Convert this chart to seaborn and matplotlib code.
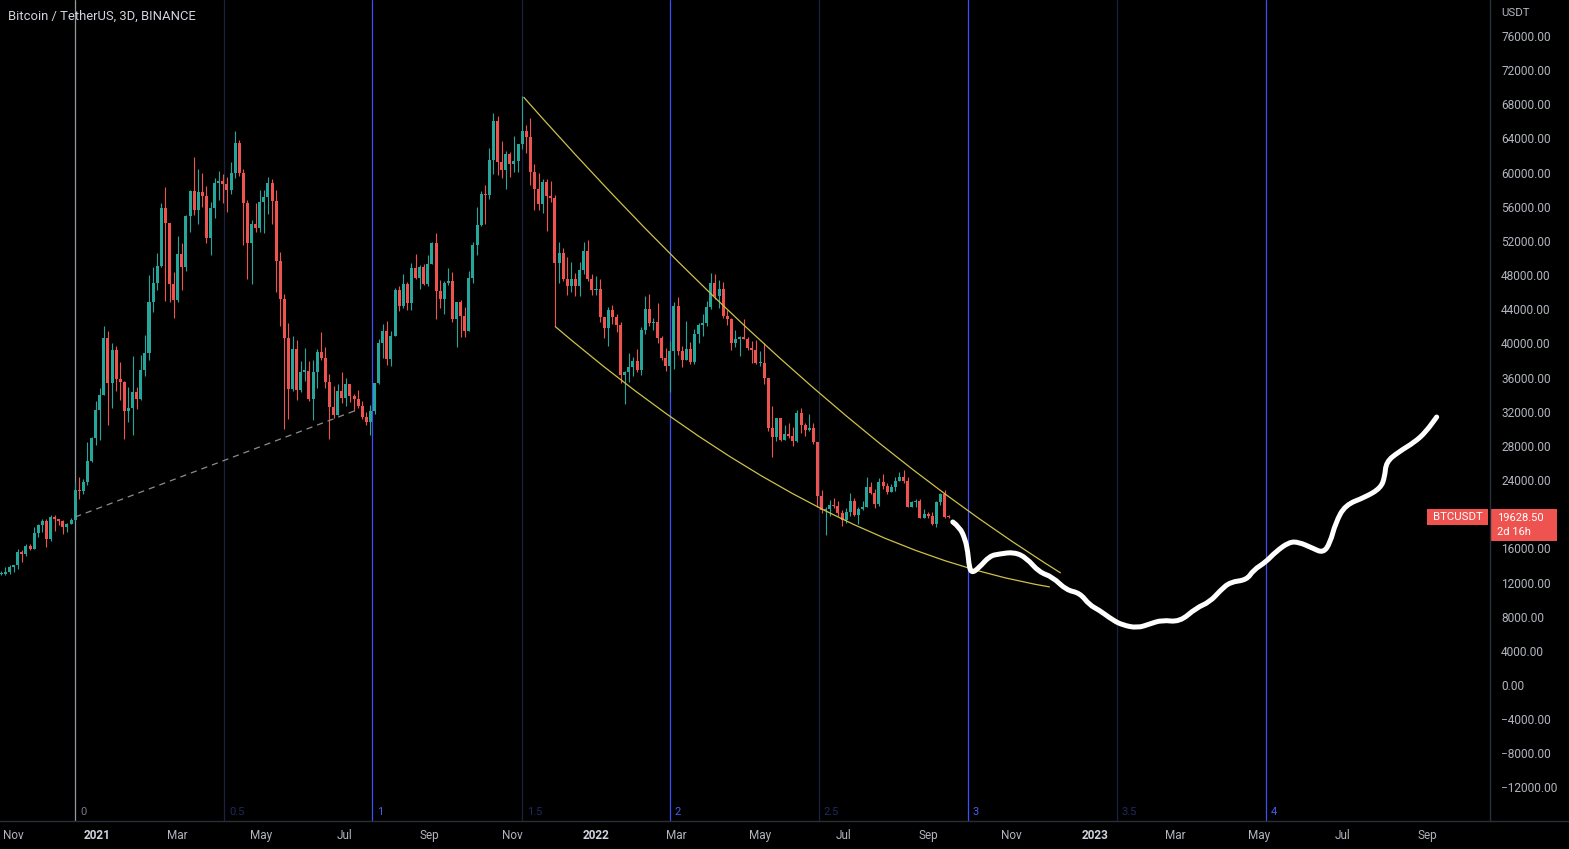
import numpy as np
import pandas as pd
import matplotlib
matplotlib.use("Agg")
import matplotlib.pyplot as plt
import matplotlib.dates as mdates
from matplotlib.patches import Rectangle, PathPatch
from matplotlib.path import Path
from matplotlib.lines import Line2D
import seaborn as sns

# ---------------- data ----------------
bar_start = "2020-10-23"          # first 3D bar
first_open = 12990
closes = [13030, 13280, 13800, 14000, 15600, 15300, 16300, 15960, 17800, 18680,
          19160, 17150, 19700, 19420, 19150, 18550, 18810, 19270, 22800, 22720,
          23730, 26280, 28890, 32180, 33950, 40600, 35400, 39200, 35800, 35470,
          32070, 32470, 34260, 33500, 36900, 38900, 44800, 47100, 49100, 55900,
          54100, 47000, 45100, 50500, 48900, 54900, 57800, 55600, 57700, 57300,
          52300, 55800, 58800, 59000, 58700, 58000, 60000, 63500, 60000, 56500,
          51700, 54000, 53500, 56600, 57200, 58800, 56700, 49700, 45200, 40600,
          34700, 39300, 34600, 36700, 36800, 33500, 36700, 39000, 38300, 35500,
          32500, 31600, 34400, 33600, 35300, 33800, 33500, 32700, 31400, 30800,
          32100, 35400, 40000, 41500, 38200, 40900, 46300, 44400, 47000, 44700,
          48800, 47700, 49000, 46900, 49300, 51800, 46100, 45200, 47100, 47300,
          42800, 44900, 43200, 41500, 47700, 51500, 53900, 57500, 57400, 61500,
          66000, 61300, 60300, 62200, 61000, 61400, 63300, 64900, 64200, 60100,
          58100, 56300, 58900, 57300, 57000, 49400, 50600, 47500, 46700, 47600,
          46700, 48600, 50800, 47500, 46200, 46400, 43100, 41800, 43900, 43100,
          42200, 36300, 36700, 37200, 37900, 36900, 41600, 44000, 42400, 42500,
          40600, 38300, 37300, 39100, 44400, 39100, 38000, 39400, 37800, 41100,
          42200, 42400, 44300, 47100, 45500, 46400, 43200, 42800, 40100, 40500,
          40800, 40500, 39500, 39200, 37700, 37700, 36000, 30100, 29000, 31300,
          28700, 29400, 29100, 28600, 31800, 30500, 29900, 30100, 28400, 22100,
          20500, 20600, 21100, 21000, 20100, 19300, 20200, 21600, 19900, 20600,
          20800, 23200, 22500, 21200, 23800, 23300, 22600, 23200, 23900, 24400,
          23900, 20800, 21400, 21600, 19600, 20000, 19800, 18800, 21400, 22400,
          19700, 19628.5]
highs = [13350, 13860, 14100, 14070, 15960, 15850, 16480, 16480, 18480, 18800,
         19420, 19480, 19860, 19920, 19420, 19350, 18950, 19570, 23800, 24300,
         24100, 28420, 29000, 33300, 34800, 42000, 41400, 40100, 39700, 37850,
         35600, 34900, 38500, 34900, 38700, 40950, 48000, 48900, 50600, 56400,
         58350, 52000, 48400, 52600, 51800, 55000, 58000, 61800, 60400, 59900,
         58400, 56600, 59400, 60200, 59800, 59500, 61200, 64850, 63800, 60400,
         56800, 54400, 56400, 57950, 58000, 59500, 59300, 58000, 50700, 45800,
         42400, 40900, 40400, 37900, 39500, 37900, 38000, 39400, 41300, 39600,
         36400, 35000, 35300, 36600, 35900, 35300, 34100, 34600, 33200, 32000,
         32800, 35400, 40550, 42300, 42600, 41400, 46450, 46700, 48100, 47200,
         49400, 50500, 49200, 49300, 50400, 51900, 52900, 47400, 47300, 48800,
         48400, 44900, 45100, 44300, 48500, 51900, 56000, 57800, 58500, 62900,
         67000, 66650, 63700, 62500, 62400, 64300, 63300, 69000, 65600, 66400,
         61000, 60000, 59300, 59200, 59000, 57400, 51900, 51200, 50100, 49500,
         48300, 49500, 51900, 52100, 48100, 47900, 47500, 43100, 44300, 44500,
         43500, 42500, 36800, 38900, 38400, 39300, 41900, 45500, 45800, 43000,
         44700, 40900, 39500, 40300, 44900, 45400, 39700, 42600, 40200, 41700,
         42400, 43400, 45000, 48200, 48100, 47400, 47200, 43900, 43000, 41600,
         40900, 42900, 40800, 40300, 40400, 39100, 40000, 36000, 32700, 31300,
         31000, 30500, 30700, 30200, 32200, 32400, 30700, 31700, 30700, 28500,
         22800, 20800, 21700, 21900, 21500, 20500, 20700, 22500, 21900, 20900,
         21600, 24300, 23800, 23000, 24200, 24700, 23600, 23500, 24300, 24900,
         25200, 24400, 21500, 21800, 21800, 20600, 20200, 20200, 21500, 22500,
         22800, 19880]
lows = [12880, 12900, 13000, 13200, 13530, 14350, 15100, 15800, 15900, 17330,
        17900, 16180, 16880, 18000, 18720, 17650, 17900, 18980, 19250, 21810,
        22350, 23400, 26100, 28100, 28700, 33950, 30400, 32400, 34400, 33400,
        28800, 30800, 29240, 32300, 33400, 36200, 38000, 43700, 46200, 49000,
        45000, 44900, 43000, 44900, 46300, 48500, 53000, 55000, 54000, 56000,
        51700, 50400, 54700, 56800, 56500, 55400, 57500, 59400, 59600, 51500,
        47500, 47000, 53000, 53100, 52900, 55200, 54000, 46000, 42000, 30000,
        31100, 34400, 33400, 34300, 35600, 33300, 31000, 34800, 38100, 34800,
        28800, 31300, 31900, 33000, 32700, 33100, 32100, 32400, 31100, 30400,
        29300, 31700, 35200, 38300, 37500, 37300, 40900, 43800, 44200, 43900,
        43900, 47600, 46400, 46800, 46700, 49400, 42800, 44200, 43400, 46800,
        42500, 39600, 40700, 40800, 41400, 47100, 50400, 53700, 54000, 56900,
        59800, 59700, 59400, 58100, 59500, 60100, 60100, 62800, 62300, 58600,
        55600, 55600, 55300, 53200, 56600, 42000, 47100, 47300, 45700, 46000,
        45500, 45600, 48100, 47300, 45700, 45700, 42500, 40600, 39700, 42300,
        41300, 35400, 32900, 35500, 36200, 36600, 36300, 41100, 42000, 41600,
        40100, 38000, 36800, 34300, 37000, 38600, 37200, 38200, 37600, 37600,
        40100, 40900, 42000, 44000, 45200, 44200, 43000, 42100, 39200, 39600,
        38500, 40500, 39200, 37700, 37600, 37400, 35300, 29700, 26700, 28600,
        28600, 28700, 28900, 28000, 28500, 29500, 29200, 29800, 28200, 20800,
        20100, 17600, 19800, 20700, 19800, 18600, 19000, 19800, 19800, 18900,
        20500, 20800, 22400, 20700, 21000, 22900, 22400, 22600, 22700, 23900,
        23700, 20800, 20800, 20900, 19500, 19500, 19600, 18700, 18500, 21100,
        19600, 19520]

cycle_dates = ["2020-12-16", "2021-04-04", "2021-07-21", "2021-11-08", "2022-02-24",
               "2022-06-13", "2022-09-30", "2023-01-17", "2023-05-06"]
cycle_levels = ["0", "0.5", "1", "1.5", "2", "2.5", "3", "3.5", "4"]

# curved trend lines: start, control, end (date, price)
upper_dates = ["2021-11-09", "2022-05-30", "2022-12-07"]
upper_prices = [68850, 32200, 13110]
lower_dates = ["2021-12-02", "2022-06-09", "2022-11-29"]
lower_prices = [42000, 16160, 11480]

dash_dates = ["2020-12-16", "2021-07-10"]
dash_prices = [19670, 32200]

# hand-drawn projection (brush anchors)
proj_dates = ["2022-09-19", "2022-09-24", "2022-09-28", "2022-09-30", "2022-10-01",
              "2022-10-03", "2022-10-08", "2022-10-16", "2022-10-23", "2022-11-03",
              "2022-11-12", "2022-11-21", "2022-12-01", "2022-12-11", "2022-12-21",
              "2022-12-28", "2023-01-04", "2023-01-14", "2023-01-21", "2023-02-01",
              "2023-02-10", "2023-02-19", "2023-03-04", "2023-03-16", "2023-03-26",
              "2023-04-03", "2023-04-10", "2023-04-22", "2023-04-27", "2023-05-06",
              "2023-05-13", "2023-05-23", "2023-05-30", "2023-06-09", "2023-06-17",
              "2023-06-22", "2023-06-26", "2023-07-03", "2023-07-18", "2023-07-29",
              "2023-08-01", "2023-08-02", "2023-08-11", "2023-08-23", "2023-08-31",
              "2023-09-08"]
proj_prices = [19090, 18500, 17100, 15600, 13820,
               13110, 13700, 15110, 15340, 15570,
               14870, 13230, 12650, 11120, 10770,
               9370, 8780, 7610, 7030, 6670,
               7140, 7610, 7380, 9020, 9720,
               11120, 12060, 12300, 13470, 14400,
               15570, 16740, 16740, 16040, 15460,
               16630, 18970, 21080, 22010, 23070,
               24360, 26110, 27280, 28450, 29630,
               31380]

xtick_dates = ["2020-11-01", "2021-01-01", "2021-03-01", "2021-05-01", "2021-07-01",
               "2021-09-01", "2021-11-01", "2022-01-01", "2022-03-01", "2022-05-01",
               "2022-07-01", "2022-09-01", "2022-11-01", "2023-01-01", "2023-03-01",
               "2023-05-01", "2023-07-01", "2023-09-01"]
xtick_labels = ["Nov", "2021", "Mar", "May", "Jul", "Sep", "Nov", "2022", "Mar", "May",
                "Jul", "Sep", "Nov", "2023", "Mar", "May", "Jul", "Sep"]
# price labels shown on the scale (20000 is hidden behind the last-price tag)
ytick_values = [76000, 72000, 68000, 64000, 60000, 56000, 52000, 48000, 44000, 40000,
                36000, 32000, 28000, 24000, 16000, 12000, 8000, 4000, 0, -4000,
                -8000, -12000]

symbol = "BTCUSDT"
last_price = 19628.50
countdown = "2d 16h"
title = "Bitcoin / TetherUS, 3D, BINANCE"

# ---------------- style ----------------
sns.set_theme(style="dark")
plt.rcParams["font.family"] = ["Roboto", "DejaVu Sans"]
BG = "#000000"
GREEN = "#26a69a"
RED = "#ef5350"
TXT = "#b2b5be"
SEP = "#2a2e39"
YEL = "#cfc04a"

W, H = 1569, 849
fig = plt.figure(figsize=(W / 100, H / 100), dpi=100, facecolor=BG)
ax_left, ax_bottom, ax_w, ax_h = 0, 28, 1490, 821
ax = fig.add_axes([ax_left / W, ax_bottom / H, ax_w / W, ax_h / H])
ax.set_facecolor(BG)
for s in ax.spines.values():
    s.set_visible(False)
ax.grid(False)

d2n = lambda ds: mdates.date2num(pd.to_datetime(ds))

# candles
dates = pd.date_range(bar_start, periods=len(closes), freq="3D")
x = mdates.date2num(dates)
c = np.array(closes, float)
o = np.concatenate([[first_open], c[:-1]])
h = np.maximum(np.array(highs, float), np.maximum(o, c))
l = np.minimum(np.array(lows, float), np.minimum(o, c))
col = np.where(c >= o, GREEN, RED)
ax.vlines(x, l, h, colors=col, linewidth=0.8, zorder=3)
ax.bar(x, np.maximum(np.abs(c - o), 130), bottom=np.minimum(o, c), width=2.2,
       color=col, linewidth=0, zorder=4)

# cycle lines
for dstr, lev in zip(cycle_dates, cycle_levels):
    xv = d2n(dstr)
    if lev == "0":
        lc, tc = "#9598a1", "#787b86"
    elif lev.endswith(".5"):
        lc, tc = "#1c2140", "#1f2a5c"
    else:
        lc, tc = "#3f51f5", "#4a5cf0"
    ax.axvline(xv, color=lc, lw=0.9, zorder=1)
    ax.annotate(lev, xy=(xv, 0), xycoords=("data", "axes fraction"),
                xytext=(5, 9), textcoords="offset pixels",
                ha="left", va="center", fontsize=8, color=tc, zorder=2)

# curved trend lines (quadratic curves through the chart's data transform)
for ds, ps in [(upper_dates, upper_prices), (lower_dates, lower_prices)]:
    verts = np.column_stack([d2n(ds), ps])
    path = Path(verts, [Path.MOVETO, Path.CURVE3, Path.CURVE3])
    ax.add_patch(PathPatch(path, fill=False, edgecolor=YEL, lw=0.9, zorder=5))

# dashed trend line
sns.lineplot(x=d2n(dash_dates), y=dash_prices, ax=ax, color="#8c8c8c", lw=0.9,
             sort=False, estimator=None, zorder=5)
ax.lines[-1].set_linestyle((0, (5, 4)))

# projection brush stroke, smoothed between anchors
pts = np.column_stack([d2n(proj_dates), proj_prices])
verts = [pts[0]]
codes = [Path.MOVETO]
for i in range(1, len(pts) - 1):
    verts += [pts[i], (pts[i] + pts[i + 1]) / 2]
    codes += [Path.CURVE3, Path.CURVE3]
verts.append(pts[-1])
codes.append(Path.LINETO)
ax.add_patch(PathPatch(Path(np.array(verts), codes), fill=False, edgecolor="white",
                       lw=3.6, capstyle="round", joinstyle="round", zorder=6))

# limits
ax.set_xlim(d2n("2020-10-22"), d2n("2023-10-17"))
ax.set_ylim(-15926, 80213)

# x ticks
ax.set_xticks(d2n(xtick_dates))
ax.set_xticklabels(xtick_labels)
ax.tick_params(axis="x", length=0, pad=6, labelsize=8.5, labelcolor=TXT)
for t in ax.get_xticklabels():
    if t.get_text().isdigit():
        t.set_fontweight("bold")
        t.set_color("#d1d4dc")

# y ticks on right
ax.yaxis.tick_right()
ax.set_yticks(ytick_values)
ax.set_yticklabels([f"{v:.2f}".replace("-", "\u2212") for v in ytick_values])
ax.tick_params(axis="y", length=0, pad=8, labelsize=8.6, labelcolor=TXT)
ax.set_xlabel("")
ax.set_ylabel("")
if ax.get_legend():
    ax.get_legend().remove()

# separators
fig.add_artist(Line2D([ax_w / W, ax_w / W], [ax_bottom / H, 1], color=SEP, lw=1,
                      transform=fig.transFigure))
fig.add_artist(Line2D([0, 1], [ax_bottom / H, ax_bottom / H], color=SEP, lw=1,
                      transform=fig.transFigure))

# title and unit
fig.text(8 / W, 1 - 16 / H, title, ha="left", va="center", fontsize=9.4, color="#d1d4dc")
fig.text(1501 / W, 1 - 13 / H, "USDT", ha="left", va="center", fontsize=8.2, color=TXT)

# last price labels
fig.canvas.draw()
ypix = ax.transData.transform((x[-1], last_price))[1]   # display px from bottom
box_red = "#ef5350"
fig.add_artist(Rectangle((1427 / W, (ypix - 8) / H), 61 / W, 16 / H,
                         transform=fig.transFigure, facecolor=box_red, edgecolor="none"))
fig.text(1457.5 / W, ypix / H, symbol, ha="center", va="center", fontsize=8.2, color="white")
fig.add_artist(Rectangle((1491 / W, (ypix - 24) / H), 66 / W, 32 / H,
                         transform=fig.transFigure, facecolor=box_red, edgecolor="none"))
fig.text(1497 / W, (ypix - 1) / H, f"{last_price:.2f}", ha="left", va="center",
         fontsize=8, color="white")
fig.text(1497 / W, (ypix - 15) / H, countdown, ha="left", va="center",
         fontsize=8, color="white")

fig.savefig("out.png", dpi=100, facecolor=BG)
